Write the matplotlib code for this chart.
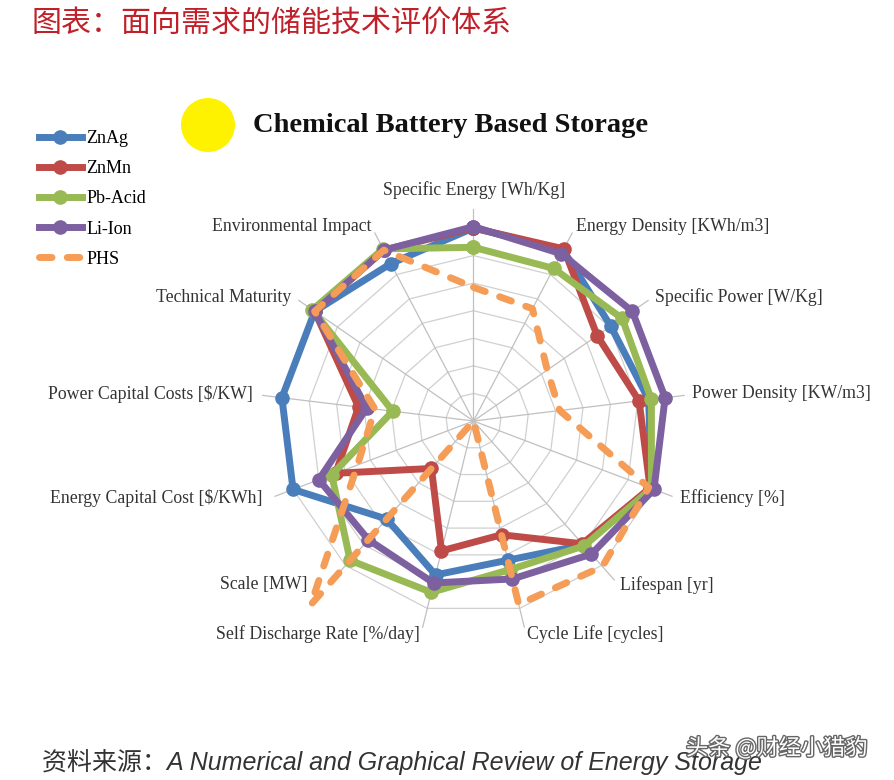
import numpy as np
import matplotlib
matplotlib.use("Agg")
import matplotlib.pyplot as plt
from matplotlib import patheffects as pe
from matplotlib.patches import Ellipse

# ---------------- data ----------------
categories = [
    "Specific Energy [Wh/Kg]", "Energy Density [KWh/m3]", "Specific Power [W/Kg]",
    "Power Density [KW/m3]", "Efficiency [%]", "Lifespan [yr]", "Cycle Life [cycles]",
    "Self Discharge Rate [%/day]", "Scale [MW]", "Energy Capital Cost [$/KWh]",
    "Power Capital Costs [$/KW]", "Technical Maturity", "Environmental Impact",
]
series_names = ["ZnAg", "ZnMn", "Pb-Acid", "Li-Ion", "PHS"]
znag   = [7.0, 7.0, 6.05, 6.4, 6.9, 6.0, 5.2, 5.75, 4.75, 7.0, 7.0, 7.0, 6.45]
znmn   = [7.0, 7.05, 5.45, 6.05, 6.85, 5.95, 4.25, 4.85, 2.3, 5.35, 4.2, 7.0, 7.0]
pbacid = [6.3, 6.25, 6.55, 6.5, 6.9, 6.05, 5.55, 6.4, 6.75, 5.5, 2.95, 7.1, 7.05]
liion  = [7.05, 6.85, 7.0, 7.0, 7.0, 6.45, 5.9, 6.05, 5.75, 6.0, 3.9, 7.0, 7.0]
phs    = [4.85, 4.6, 3.25, 3.15, 6.8, 7.05, 6.85, 0.0, 8.9, 4.5, 3.6, 7.0, 7.0]
grid_levels = [1, 2, 3, 4, 5, 6, 7]

title_cn = "图表：面向需求的储能技术评价体系"
chart_title = "Chemical Battery Based Storage"
source_text = "资料来源：A Numerical and Graphical Review of Energy Storage"
watermark = "头条 @财经小猎豹"

# ---------------- styles ----------------
colors = ["#4A7EBB", "#BE4B48", "#98B954", "#7D60A0", "#F59D56"]
W, H = 894, 780
fig = plt.figure(figsize=(W / 100, H / 100), dpi=100)
fig.patch.set_facecolor("white")


def fx(x):
    return x / W


def fy(y):
    return 1 - y / H


SERIF = "Liberation Serif"
cx, cy, Rpx, RMAX = 473.5, 421.0, 193.0, 7.0
rlim = 9.6
rad = Rpx * rlim / RMAX
ax = fig.add_axes([fx(cx - rad), fy(cy + rad), 2 * rad / W, 2 * rad / H], projection="polar")
ax.set_theta_zero_location("N")
ax.set_theta_direction(-1)
ax.set_ylim(0, rlim)
ax.axis("off")

n = len(categories)
theta = np.arange(n) * 2 * np.pi / n
theta_c = np.append(theta, theta[0])

# polygon grid
for lv in grid_levels:
    ax.plot(theta_c, [lv] * (n + 1), color="#D0D0D0", lw=0.9, zorder=1)
for t in theta:
    ax.plot([t, t], [0, 7.7], color="#C0C0C0", lw=0.9, zorder=1)

all_series = [znag, znmn, pbacid, liion, phs]
handles = []
for i, (name, vals) in enumerate(zip(series_names, all_series)):
    v = np.append(vals, vals[0])
    if name == "PHS":
        ln, = ax.plot(theta_c, v, color=colors[i], lw=5, linestyle=(0, (1.8, 2.2)),
                      dash_capstyle="round", zorder=3 + i, clip_on=False)
    else:
        ln, = ax.plot(theta_c, v, color=colors[i], lw=5, marker="o", ms=9.5,
                      solid_joinstyle="round", zorder=3 + i, clip_on=False)
    handles.append(ln)

# axis labels (pixel anchors)
label_pos = [
    (474, 190, "center"), (576, 226, "left"), (655, 297, "left"), (692, 394, "left"),
    (680, 498, "left"), (620, 585, "left"), (527, 634, "left"), (420, 634, "right"),
    (308, 585, "right"), (262, 498, "right"), (253, 394, "right"), (291, 297, "right"),
    (372, 226, "right"),
]
for lab, (x, y, ha) in zip(categories, label_pos):
    fig.text(fx(x), fy(y), lab, ha=ha, va="center", fontsize=12.8, family=SERIF,
             color="#333333")

# legend
fig.legend(handles, series_names, loc="upper left", bbox_to_anchor=(fx(38.5), fy(130)),
           frameon=False, prop={"family": SERIF, "size": 13}, handlelength=2.4,
           handletextpad=0.25, labelspacing=0.73, borderaxespad=0, borderpad=0)

# yellow circle + chart title
fig.patches.append(Ellipse((fx(208), fy(125)), 54 / W, 54 / H, transform=fig.transFigure,
                           facecolor="#FFF200", edgecolor="none"))
fig.text(fx(253), fy(126), chart_title, ha="left", va="center", fontsize=20.5,
         fontweight="bold", family=SERIF, color="#111111")

# top Chinese title
fig.text(fx(31), fy(23), title_cn, ha="left", va="center", fontsize=21.6,
         family=["Noto Sans CJK SC", "DejaVu Sans"], color="#C0202A")

# source footer
fig.text(fx(42), fy(762), source_text, ha="left", va="center", fontsize=18,
         style="italic", family=["Liberation Sans", "Noto Sans CJK SC"], color="#333333")

# watermark
fig.text(fx(686), fy(748), watermark, ha="left", va="center", fontsize=16,
         family=["Noto Sans CJK SC", "DejaVu Sans"], color="white",
         path_effects=[pe.withStroke(linewidth=2, foreground="#666666")])

fig.savefig("out.png", dpi=100, facecolor="white")
